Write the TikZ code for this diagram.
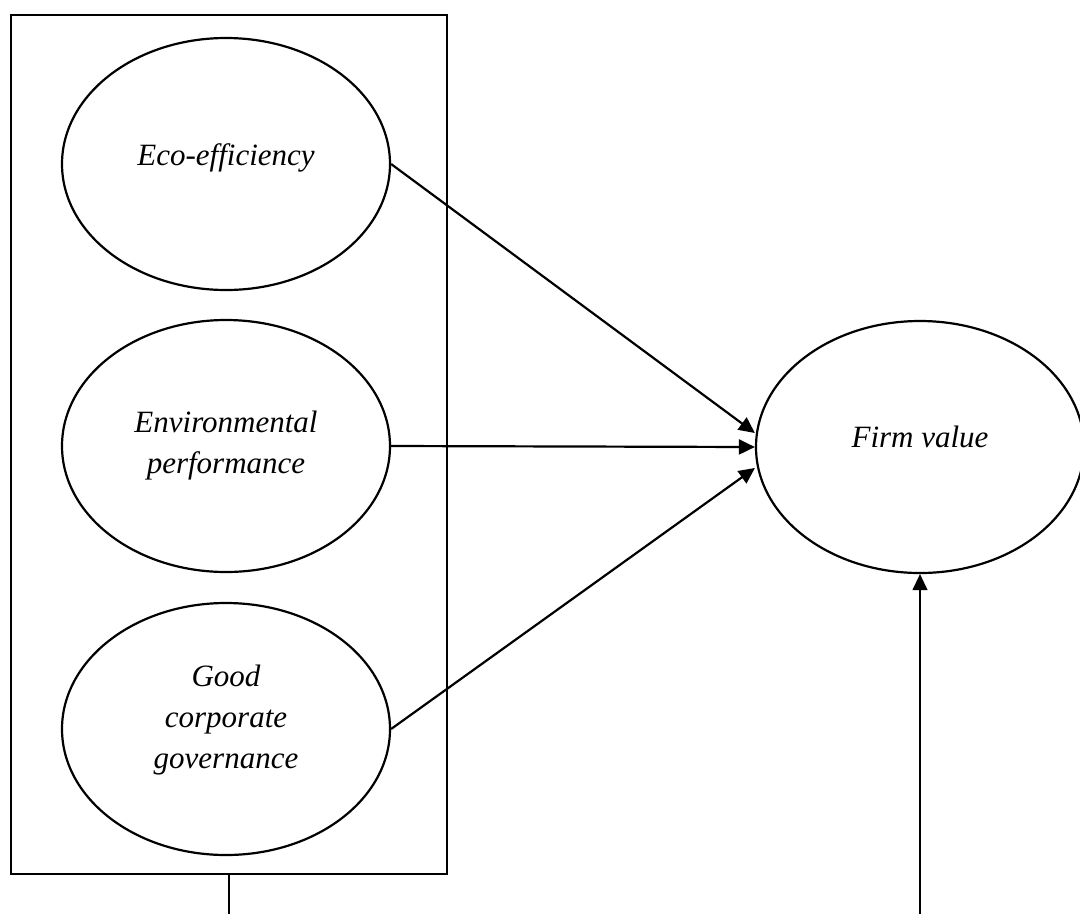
\documentclass[tikz,border=0pt]{standalone}
\usepackage{fontspec}
\setmainfont{Liberation Serif}
\usetikzlibrary{shapes.geometric,arrows.meta}

\begin{document}
\begin{tikzpicture}[x=1pt,y=1pt,>={Triangle[length=16pt,width=15pt]},
    latent/.style={ellipse,draw,line width=2.2pt,minimum width=328pt,
      minimum height=252pt,inner sep=0pt,align=center,
      font=\fontsize{31}{41}\selectfont\itshape}
                   ]
    \useasboundingbox (0,0) rectangle (1080,-914);

    % grouping box round the three predictors
    \node[draw,line width=1.2pt,minimum width=436pt,minimum height=859pt,
      inner sep=0pt](box) at (229,-444.5){};

    \node[latent,text depth=19pt](w1) at (226,-164){Eco-efficiency};
    \node[latent](w2) at (226,-446){Environmental\\performance};
    \node[latent,text depth=25pt](w3) at (226,-729){Good\\corporate\\governance};
    \node[latent,text depth=20pt](fv) at (920,-447){Firm value};

    \coordinate (b1) at (229,-914);
    \coordinate (b2) at (920,-914);

    \path[->,line width=2.2pt] (w1.east) edge ([yshift=14pt]fv.west)
    (w2.east) edge (fv.west)
    (w3.east) edge ([yshift=-21pt]fv.west);

    \draw[line width=1.2pt] (box.south) -- (b1);
    \draw[->,line width=1.2pt] (b2) -- (fv.south);

\end{tikzpicture}
\end{document}
